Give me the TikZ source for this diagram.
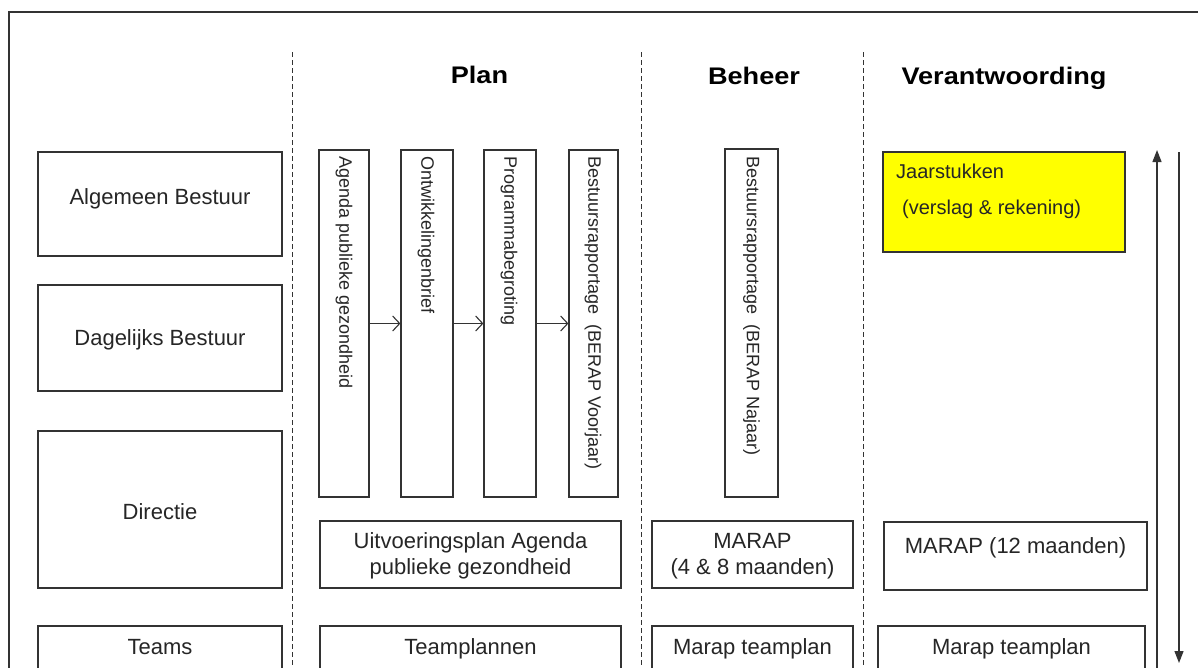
\documentclass[tikz,border=0pt]{standalone}
\usepackage{fontspec}
\setmainfont{Liberation Sans}
\newfontfamily\hdrfont{Liberation Sans}[FakeStretch=1.13]
\usetikzlibrary{arrows.meta,fit}
\definecolor{edge}{HTML}{333333}
\definecolor{txt}{HTML}{262626}
\definecolor{jaar}{HTML}{FFFF00}
\begin{document}
\begin{tikzpicture}[x=1pt,y=-1pt,
 box/.style={draw=edge, line width=1.2pt, inner sep=0pt},
 lbl/.style={font=\fontsize{22}{26}\selectfont, text=txt, inner sep=0pt, anchor=base},
 mlbl/.style={font=\fontsize{22}{26}\selectfont, text=txt, inner sep=0pt, align=center},
 vlbl/.style={font=\fontsize{18}{21}\selectfont, text=txt, inner sep=0pt, rotate=-90, anchor=west},
 ylbl/.style={font=\fontsize{20}{24}\selectfont, text=txt, inner sep=0pt, anchor=base west},
 hdr/.style={font=\hdrfont\bfseries\fontsize{24}{28}\selectfont, inner sep=0pt, anchor=base},
 sep/.style={draw=edge, line width=1pt, dash pattern=on 5pt off 3pt},
 flow/.style={draw=edge, line width=1.1pt, -{Straight Barb[length=7pt,width=15pt,line width=1.1pt]}},
 axis/.style={draw=edge, line width=1.2pt, -{Triangle[length=12pt,width=9pt]}}
]
\clip (0,0) rectangle (1198,667);
\fill[white] (0,0) rectangle (1198,667);
% frame
\draw[edge, line width=1.5pt] (9,700) -- (9,12) -- (1210,12);
% column separators
\coordinate (s1t) at (292,52); \coordinate (s1b) at (292,670);
\coordinate (s2t) at (641,52); \coordinate (s2b) at (641,670);
\coordinate (s3t) at (863,52); \coordinate (s3b) at (863,670);
\draw[sep] (s1t) -- (s1b);
\draw[sep] (s2t) -- (s2b);
\draw[sep] (s3t) -- (s3b);
% headers
\node[hdr] (hplan) at (479.5,83) {Plan};
\node[hdr] (hbeheer) at (754,84) {Beheer};
\node[hdr] (hverant) at (1004,84) {Verantwoording};
% left column
\node[box, fit={(38,152) (282,256)}] (ab) {};
\node[box, fit={(38,285) (282,391)}] (db) {};
\node[box, fit={(38,431) (282,588)}] (dir) {};
\node[box, fit={(38,626) (282,690)}] (teams) {};
\node[lbl] (tab) at (160,204) {Algemeen Bestuur};
\node[lbl] (tdb) at (160,345) {Dagelijks Bestuur};
\node[lbl] (tdir) at (160,519) {Directie};
\node[lbl] (tteams) at (160,654) {Teams};
% plan vertical boxes
\node[box, fit={(319,150) (369,497)}] (p1) {};
\node[box, fit={(401,150) (453,497)}] (p2) {};
\node[box, fit={(484,150) (536,497)}] (p3) {};
\node[box, fit={(569,150) (618,497)}] (p4) {};
\node[vlbl] (tp1) at (344,156) {Agenda publieke gezondheid};
\node[vlbl] (tp2) at (426,156) {Ontwikkelingenbrief};
\node[vlbl] (tp3) at (509,156) {Programmabegroting};
\node[vlbl] (tp4) at (593,156) {Bestuursrapportage~~(BERAP Voorjaar)};
\draw[flow] (p1) -- (p2);
\draw[flow] (p2) -- (p3);
\draw[flow] (p3) -- (p4);
% beheer vertical box
\node[box, fit={(725,149) (778,497)}] (bh) {};
\node[vlbl] (tbh) at (751.5,156) {Bestuursrapportage~~(BERAP Najaar)};
% jaarstukken
\node[box, fill=jaar, fit={(883,152) (1125,252)}] (js) {};
\node[ylbl] (tjs1) at (896,178) {Jaarstukken};
\node[ylbl] (tjs2) at (902,214) {(verslag \& rekening)};
% directie row
\node[box, fit={(320,521) (621,588)}] (uitv) {};
\node[box, fit={(652,521) (853,588)}] (m48) {};
\node[box, fit={(884,522) (1147,590)}] (m12) {};
\node[mlbl] (tuitv) at (470.5,556) {Uitvoeringsplan Agenda\\publieke gezondheid};
\node[mlbl] (tm48) at (752.5,556) {MARAP\\(4 \& 8 maanden)};
\node[lbl] (tm12) at (1015.5,553) {MARAP (12 maanden)};
% teams row
\node[box, fit={(320,626) (621,690)}] (tp) {};
\node[box, fit={(652,626) (853,690)}] (mt1) {};
\node[box, fit={(878,626) (1145,690)}] (mt2) {};
\node[lbl] (ttp) at (470.5,654) {Teamplannen};
\node[lbl] (tmt1) at (752.5,654) {Marap teamplan};
\node[lbl] (tmt2) at (1011.5,654) {Marap teamplan};
% right axis arrows
\coordinate (upS) at (1157,700); \coordinate (upE) at (1157,150);
\coordinate (dnS) at (1179,152); \coordinate (dnE) at (1179,663);
\draw[axis] (upS) -- (upE);
\draw[axis] (dnS) -- (dnE);
\end{tikzpicture}
\end{document}
